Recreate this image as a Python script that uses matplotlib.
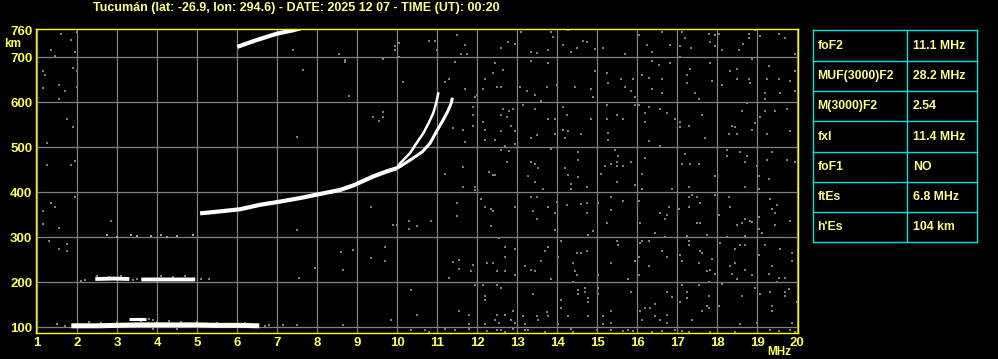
import numpy as np
import matplotlib
matplotlib.use('Agg')
import matplotlib.pyplot as plt

# Ionograma Tucumán - leitura aproximada da imagem

titulo = 'Tucumán (lat: -26.9, lon: 294.6) - DATE: 2025 12 07 - TIME (UT): 00:20'

freq_ticks = list(range(1, 21))
alt_ticks = [100, 200, 300, 400, 500, 600, 700, 760]
alt_grid = [100, 200, 300, 400, 500, 600, 700]

# Parametros da tabela
param_nomes = ['foF2', 'MUF(3000)F2', 'M(3000)F2', 'fxl', 'foF1', 'ftEs', "h'Es"]
param_valores = ['11.1 MHz', '28.2 MHz', '2.54', '11.4 MHz', 'NO', '6.8 MHz', '104 km']

# Traco F2 (tronco comum)
f2_f = [5.07, 5.32, 6.07, 6.57, 7.07, 7.57, 8.07, 8.57, 8.9, 9.4, 9.73, 9.98]
f2_h = [353, 355, 362, 372, 379, 387, 396, 405, 415, 435, 446, 453]
# ramo ordinario
o_f = [9.98, 10.07, 10.32, 10.48, 10.65, 10.78, 10.9, 10.98, 11.03]
o_h = [453, 464, 487, 509, 531, 553, 576, 601, 622]
# ramo extraordinario
x_f = [9.98, 10.07, 10.4, 10.63, 10.82, 10.98, 11.15, 11.28, 11.34, 11.38]
x_h = [453, 457, 476, 490, 509, 535, 561, 583, 596, 610]
# segundo salto F
f2b_f = [6.0, 6.48, 6.98, 7.4, 7.65]
f2b_h = [723, 738, 752, 760, 766]

# Es
es_f = [1.85, 2.5, 3.0, 3.5, 4.0, 4.5, 5.0, 5.5, 6.0, 6.55]
es_h = [103, 103, 104, 105, 105, 105, 105, 104, 104, 103]
esb_f = [3.3, 3.72]
esb_h = [119, 119]
es2_f = [2.45, 2.9, 3.3, np.nan, 3.6, 4.2, 4.95]
es2_h = [207, 208, 207, np.nan, 206, 206, 206]
es3_f = [2.75, 2.98, 3.33, 3.5, 3.83, 4.08, 4.25, 4.5, 4.9]
es3_h = [304, 301, 304, 302, 303, 304, 301, 303, 304]
es_cinza_f = [2.3, 2.6, 3.0, 3.6, 4.0, 4.3, 4.6, 5.0, 5.5, 6.7, 6.8, 6.2, 1.7, 1.5, 3.9, 4.5,
              2.2, 2.5, 2.8, 3.1, 3.4, 3.5, 4.1, 4.4, 4.7, 5.1, 5.3, 2.1, 3.8, 3.9]
es_cinza_h = [112, 110, 112, 113, 112, 113, 111, 112, 110, 103, 104, 110, 102, 108, 96, 97,
              205, 213, 212, 214, 205, 208, 213, 212, 214, 206, 206, 203, 118, 117]

# pontos de ruido (cinza)
ruido_f = [
    13.08, 12.77, 12.93, 12.59, 13.33, 13.48, 13.83, 13.88, 13.78, 14.13, 14.28, 14.33, 14.48, 14.63,
    14.73, 14.93, 15.13, 15.68, 16.03, 16.23, 16.38, 16.63, 16.83, 17.13, 17.18, 17.08, 17.35, 17.78,
    17.93, 18.03, 17.83, 17.93, 18.13, 18.53, 18.65, 18.78, 18.78, 18.93, 19.08, 19.53, 19.68, 19.93,
    12.43, 12.63, 12.38, 12.18, 12.48, 12.58, 12.13, 13.07, 13.23, 13.33, 13.43, 13.73, 13.78, 13.98,
    13.58, 14.45, 14.83, 14.88, 14.93, 15.23, 15.58, 15.68, 15.28, 15.83, 15.88, 15.93, 16.13, 16.28,
    16.38, 16.63, 16.53, 16.63, 16.38, 16.83, 17.08, 17.33, 17.23, 17.23, 17.43, 17.53, 17.83, 17.88,
    18.13, 18.33, 18.48, 18.48, 18.78, 18.88, 18.83, 19.28, 19.23, 19.18, 19.18, 19.53, 19.58, 19.83,
    19.93, 19.93,
    12.63, 12.78, 12.88, 12.58, 12.73, 12.13, 12.83, 12.18, 12.58, 12.93, 12.18, 12.43, 12.68, 12.93,
    13.13, 13.43, 13.33, 13.48, 13.78, 13.93, 13.93, 14.13, 14.23, 14.13, 14.28, 14.18, 14.58, 14.83,
    15.23, 15.23, 15.48, 15.63, 15.28, 15.28, 15.93, 16.03, 16.28, 16.18, 16.58, 16.73, 16.93, 16.18,
    16.28, 16.58, 17.08, 17.08, 17.28, 17.63, 17.68, 18.38, 18.43, 18.28, 18.48, 18.63, 18.73,
    18.88, 18.93, 19.08, 19.18, 19.43, 19.73, 19.23, 19.83,
    12.58, 12.78, 12.73, 12.28, 12.38, 13.33, 13.43, 13.53, 13.28, 13.83, 14.18, 14.28, 14.53, 14.53,
    14.53, 15.08, 15.18, 15.33, 15.48, 15.48, 15.63, 15.83, 15.43, 15.53, 16.18, 16.13, 17.18, 17.13,
    17.33, 17.53, 17.93, 18.23, 18.23, 18.58, 18.73, 18.68, 18.98, 19.03, 19.38, 19.23, 19.73, 19.93,
    12.43, 13.43, 13.63, 14.33, 14.53, 14.33, 14.73, 15.48, 15.93, 16.13, 16.88, 17.28, 18.68, 19.03,
    19.28,
    12.08, 12.18, 12.33, 12.38, 12.93, 12.33, 12.53, 13.33, 13.48, 13.38, 13.48, 13.78, 13.93, 13.93,
    13.98, 14.23, 14.58, 14.73, 14.73, 14.88, 14.78, 15.03, 15.33, 15.33, 15.63, 15.23, 16.03, 16.08,
    16.58, 16.73, 16.78, 16.68, 16.43, 16.68, 17.03, 17.28, 17.38, 17.48, 17.58, 17.28, 17.48, 17.58,
    17.23, 17.73, 17.93, 18.03, 18.28, 18.33, 18.48, 18.63, 18.68, 18.83, 18.88, 18.68, 18.23, 19.33,
    19.48, 19.38, 19.43, 19.03, 19.43, 19.83, 19.03, 19.13,
    12.68, 12.93, 12.68, 12.23, 12.38, 12.48, 12.68, 12.93, 13.18, 13.33, 13.43, 13.58, 13.68, 13.78,
    13.83, 14.08, 14.03, 14.38, 14.43, 14.48, 14.38, 14.48, 14.58, 14.73, 15.03, 15.33, 15.48, 15.53,
    15.78, 15.93, 16.03, 16.08, 16.13, 16.28, 16.28, 16.03, 16.63, 16.73, 17.08, 17.28, 17.28, 17.13,
    17.58, 17.63, 17.53, 17.73, 17.83, 17.88, 17.93, 17.78, 18.08, 18.43, 18.58, 18.68, 18.33, 18.43,
    18.38, 18.48, 18.68, 18.88, 19.03, 19.18, 19.38, 19.28, 19.53, 19.58, 19.68, 19.88, 19.88, 19.48,
    12.13, 12.48, 12.58, 12.18, 12.18, 12.88, 12.68, 12.48, 12.43, 12.53, 12.83, 12.93, 12.18, 13.38,
    13.13, 13.48, 13.53, 13.73, 13.78, 13.18, 14.08, 14.08, 14.03, 14.53, 14.53, 14.68, 14.68, 14.78,
    14.78, 14.28, 14.78, 15.03, 15.03, 15.13, 15.13, 15.33, 15.33, 15.83, 16.08, 16.18, 16.33, 16.43,
    16.43, 16.13, 16.58, 16.73, 16.73, 16.88, 16.73, 17.13, 17.23, 17.23, 17.08, 17.38, 17.53, 17.78,
    17.63, 17.73, 17.78, 18.03, 18.13, 18.63, 18.58, 18.93, 18.98, 19.08, 19.33, 19.38, 19.38, 19.68,
    19.68, 19.78, 19.88, 19.98,
    12.23, 12.48, 12.58, 12.68, 12.88, 13.18, 13.28, 13.68, 14.33, 14.38, 14.98, 15.33, 15.63, 15.78,
    15.88, 16.38, 16.63, 16.93, 17.13, 17.28, 17.83, 18.43, 19.33, 19.53, 19.83, 19.93,
    1.58, 1.83, 1.98, 1.33, 1.43, 1.95, 1.13, 1.18, 1.88, 1.98, 1.13, 1.53, 1.68, 1.53, 1.98, 1.73,
    1.88, 1.23, 1.23, 1.93, 1.83, 0.98, 1.93, 1.33, 1.43, 1.13, 1.13, 1.53, 1.28, 1.73, 1.53, 1.73,
    2.83,
    7.38, 7.63, 8.54, 8.69, 8.69, 8.79, 9.64, 9.94, 9.94, 10.04, 10.04, 10.14, 10.79, 10.94, 10.99,
    11.44, 11.29, 11.19, 11.49, 11.69, 11.73, 11.58, 11.69, 11.94, 11.89, 11.89, 11.89, 11.99, 9.38,
    9.54, 9.64, 9.64, 7.49, 11.38, 11.64, 11.69, 11.19, 11.64, 11.64, 11.94, 11.94, 11.49, 11.49, 9.34,
    10.29, 10.49, 10.29, 10.84, 9.89, 9.99, 7.49, 9.69,
    7.94, 7.54, 8.59, 8.89, 8.64, 9.34, 9.69, 9.69, 10.34, 10.49, 9.84, 11.4, 11.54, 11.54, 11.84,
    11.89, 11.29, 11.94, 11.54, 11.79, 11.79, 11.79, 7.14, 7.49, 8.64, 10.34, 10.79, 11.19, 10.69,
    11.44,
]
ruido_h = [
    757, 734, 730, 721, 712, 709, 757, 745, 716, 728, 761, 712, 721, 736,
    734, 719, 721, 706, 749, 728, 712, 757, 728, 757, 743, 725, 721, 752,
    749, 752, 734, 725, 715, 716, 730, 752, 743, 761, 748, 752, 742, 707,
    688, 671, 665, 652, 634, 634, 629, 634, 625, 692, 616, 634, 688, 638,
    602, 634, 629, 611, 670, 665, 652, 634, 643, 625, 652, 611, 661, 653,
    692, 652, 683, 620, 629, 688, 701, 674, 661, 643, 620, 607, 688, 647,
    638, 670, 674, 652, 652, 697, 643, 680, 652, 620, 607, 652, 620, 647,
    670, 625,
    585, 580, 585, 571, 566, 557, 548, 539, 536, 535, 517, 517, 503, 508,
    593, 585, 521, 526, 562, 562, 530, 590, 571, 539, 535, 521, 530, 562,
    593, 563, 571, 562, 532, 517, 593, 593, 589, 575, 585, 575, 562, 557,
    514, 503, 557, 544, 548, 571, 521, 548, 544, 530, 530, 580, 598,
    539, 553, 566, 580, 580, 585, 530, 535,
    494, 491, 467, 445, 439, 467, 463, 454, 436, 496, 454, 439, 490, 472,
    434, 440, 458, 463, 467, 458, 458, 467, 494, 481, 476, 440, 485, 463,
    463, 463, 436, 494, 481, 490, 481, 467, 458, 436, 490, 472, 472, 466,
    438, 422, 407, 419, 434, 406, 412, 422, 416, 407, 407, 412, 412, 407,
    430,
    385, 367, 363, 358, 367, 325, 299, 390, 390, 358, 340, 367, 354, 316,
    379, 372, 374, 376, 354, 313, 304, 376, 390, 361, 381, 331, 381, 331,
    354, 349, 367, 340, 309, 300, 363, 390, 394, 390, 376, 367, 331, 331,
    303, 304, 394, 349, 390, 367, 327, 331, 340, 336, 334, 303, 300, 385,
    372, 363, 354, 345, 327, 336, 318, 309,
    278, 273, 255, 242, 242, 224, 224, 215, 236, 228, 224, 246, 269, 278,
    206, 291, 255, 242, 224, 215, 201, 264, 264, 269, 215, 242, 291, 282,
    206, 246, 255, 287, 291, 291, 237, 215, 269, 255, 260, 291, 282, 246,
    269, 264, 242, 224, 228, 251, 219, 201, 287, 273, 282, 282, 237, 242,
    219, 206, 228, 215, 260, 282, 237, 219, 210, 273, 210, 264, 246, 200,
    193, 193, 188, 170, 160, 137, 128, 128, 115, 110, 115, 110, 106, 173,
    124, 124, 115, 133, 124, 106, 160, 142, 106, 182, 173, 188, 178, 164,
    155, 124, 124, 188, 173, 124, 106, 137, 110, 179, 137, 142, 142, 151,
    124, 115, 115, 128, 110, 166, 179, 193, 179, 164, 155, 115, 193, 170,
    137, 146, 142, 146, 196, 170, 106, 188, 110, 173, 179, 146, 137, 178,
    169, 184, 110, 155,
    91, 94, 94, 90, 95, 94, 94, 89, 95, 89, 94, 94, 91, 94,
    91, 89, 91, 94, 91, 89, 89, 89, 94, 91, 94, 89,
    752, 739, 757, 716, 703, 712, 670, 661, 676, 669, 631, 639, 625, 607, 634, 563,
    545, 509, 461, 469, 460, 473, 390, 376, 367, 358, 330, 321, 291, 284, 273, 269,
    336,
    715, 672, 706, 694, 690, 614, 696, 724, 715, 732, 701, 645, 737, 737, 715,
    690, 652, 645, 749, 727, 706, 706, 630, 612, 589, 571, 547, 617, 567,
    558, 578, 567, 522, 543, 538, 512, 441, 456, 412, 412, 404, 376, 346, 368,
    337, 324, 319, 337, 328, 328, 315, 279,
    232, 210, 267, 271, 228, 253, 278, 247, 182, 126, 117, 244, 249, 230, 224,
    238, 209, 194, 135, 126, 108, 95, 104, 104, 104, 94, 90, 95, 94,
    94,
]

AMARELO = '#ffff00'
TXT_TICK = '#ffff55'
TXT_CLARO = '#ffff88'
CIANO = '#00e0e0'
CINZA = '#808080'
FONTE = 'Liberation Sans'

plt.rcParams['font.family'] = [FONTE, 'DejaVu Sans']

fig = plt.figure(figsize=(9.98, 3.59), dpi=100, facecolor='black')
ax = fig.add_axes([35.7 / 998, 1 - 333 / 359, (797.7 - 35.7) / 998, (333 - 29.3) / 359])
ax.set_facecolor('black')
ax.set_xlim(0.96, 20.01)
ax.set_ylim(87, 762)

for f in freq_ticks:
    ax.axvline(f, color=CINZA, lw=0.9, zorder=1)
for h in alt_grid:
    ax.axhline(h, color=CINZA, lw=0.9, zorder=1)

# ruido
ax.scatter(ruido_f, ruido_h, s=4.2, marker='s', c=CINZA, linewidths=0, zorder=2)
ax.scatter(es_cinza_f, es_cinza_h, s=4.5, marker='s', c=CINZA, linewidths=0, zorder=2)
ax.scatter(es3_f, es3_h, s=4.5, marker='s', c='#a0a0a0', linewidths=0, zorder=2)

# tracos
ax.plot(es_f, es_h, color='white', lw=3.6, solid_capstyle='butt', zorder=3)
ax.plot(esb_f, esb_h, color='white', lw=2.2, solid_capstyle='butt', zorder=3)
ax.plot(es2_f, es2_h, color='white', lw=2.8, solid_capstyle='butt', zorder=3)
ax.plot(f2_f, f2_h, color='white', lw=3.0, solid_capstyle='butt', zorder=3)
ax.plot(o_f, o_h, color='white', lw=1.8, solid_capstyle='butt', zorder=3)
ax.plot(x_f, x_h, color='white', lw=2.2, solid_capstyle='butt', zorder=3)
ax.plot(f2b_f, f2b_h, color='white', lw=3.0, solid_capstyle='butt', zorder=3)

for s in ax.spines.values():
    s.set_color(AMARELO)
    s.set_linewidth(1.0)
ax.spines['top'].set_zorder(5)

ax.set_xticks(freq_ticks)
ax.set_xticklabels([str(f) for f in freq_ticks])
ax.set_yticks(alt_ticks)
ax.set_yticklabels([str(h) for h in alt_ticks])
ax.tick_params(length=0, colors=TXT_TICK, labelsize=9.5, pad=3)
for lab in ax.get_xticklabels() + ax.get_yticklabels():
    lab.set_fontweight('bold')
    lab.set_color(TXT_TICK)
ax.tick_params(axis='y', pad=2.5)

# camada de texto em pixels
ov = fig.add_axes([0, 0, 1, 1])
ov.set_xlim(0, 998)
ov.set_ylim(359, 0)
ov.axis('off')

ov.text(296, 8, titulo, color=TXT_CLARO, fontsize=9.0, fontweight='bold',
        ha='center', va='center')
ov.text(13, 44, 'km', color=TXT_TICK, fontsize=8.5, fontweight='bold', ha='center', va='center')
ov.text(779, 352, 'MHz', color=TXT_TICK, fontsize=8.5, fontweight='bold', ha='center', va='center')

# tabela
tx0, tx1, tcol = 812.7, 977.3, 907.3
linhas_y = [30.3, 61.3, 91.3, 121.3, 151.7, 182.3, 212.3, 242.3]
for y in linhas_y:
    ov.plot([tx0, tx1], [y, y], color=CIANO, lw=1.0)
for x in [tx0, tcol, tx1]:
    ov.plot([x, x], [linhas_y[0], linhas_y[-1]], color=CIANO, lw=1.0)
for i, (nome, valor) in enumerate(zip(param_nomes, param_valores)):
    yc = (linhas_y[i] + linhas_y[i + 1]) / 2
    ov.text(817.5, yc, nome, color=TXT_CLARO, fontsize=8.8, fontweight='bold', va='center')
    ov.text(913, yc, valor, color=TXT_CLARO, fontsize=8.8, fontweight='bold', va='center')

fig.savefig('out.png', dpi=100, facecolor='black')
